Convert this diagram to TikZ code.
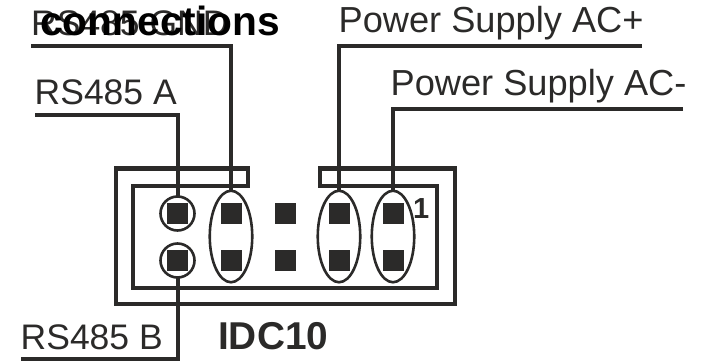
\documentclass[tikz,border=0pt]{standalone}
\usepackage{fontspec}
\setmainfont{Liberation Sans}
\usetikzlibrary{shapes.geometric}
\definecolor{ink}{HTML}{2B2A29}
\tikzset{
  lbl/.style={anchor=base west,inner sep=0pt,text=ink,font=\fontsize{35.5}{36}\selectfont},
  lblp/.style={anchor=base west,inner sep=0pt,text=ink,font=\fontsize{36.2}{36}\selectfont},
  boldlbl/.style={anchor=base west,inner sep=0pt,text=ink,font=\fontsize{38.8}{39}\selectfont\bfseries},
  ttl/.style={anchor=base west,inner sep=0pt,text=black,font=\fontsize{40.7}{41}\selectfont\bfseries},
  pin/.style={fill=ink,draw=none,minimum size=21pt,inner sep=0pt,outer sep=0pt},
  ring/.style={circle,draw=ink,line width=2.6pt,minimum size=34pt,inner sep=0pt,outer sep=0pt},
  oval/.style={ellipse,draw=ink,line width=2.6pt,minimum width=42.5pt,minimum height=91.5pt,inner sep=0pt,outer sep=0pt},
  wire/.style={draw=ink,line width=4pt},
  shell/.style={draw=ink,line width=4.2pt,miter limit=10}
}
\begin{document}
\begin{tikzpicture}[x=1pt,y=-1pt]
\useasboundingbox (0,0) rectangle (701,362);
% shell
\coordinate (o1) at (248,186); \coordinate (o2) at (248,168.5); \coordinate (o3) at (116,168.5);
\coordinate (o4) at (116,304); \coordinate (o5) at (455,304); \coordinate (o6) at (455,168.5);
\coordinate (o7) at (320,168.5); \coordinate (o8) at (320,186);
\coordinate (i1) at (133,186); \coordinate (i2) at (133,288); \coordinate (i3) at (437,288); \coordinate (i4) at (437,186);
\draw[shell] (i1) -- (o1) -- (o2) -- (o3) -- (o4) -- (o5) -- (o6) -- (o7) -- (o8) -- (i4) -- (i3) -- (i2) -- cycle;
% pins
\foreach \n/\x in {a/177.5,b/231,c/285,d/339,e/393}{
  \node[pin] (p\n t) at (\x,213.5) {};
  \node[pin] (p\n b) at (\x,260.5) {};
}
\node[ring] (ra) at (177.5,213.5) {};
\node[ring] (rb) at (177.5,260.5) {};
\node[oval] (ob) at (231,236.5) {};
\node[oval] (od) at (339,236.5) {};
\node[oval] (oe) at (393,236.5) {};
% labels
\node[lbl] (lgnd) at (31,35) {RS485 GND};
\node[lbl] (la) at (34.5,104) {RS485 A};
\node[lbl] (lb) at (20.5,349) {RS485 B};
\node[lblp] (lp) at (338.5,32) {Power Supply AC+};
\node[lblp] (lm) at (390.5,95) {Power Supply AC-};
\node[ttl] (title) at (40,35) {connections};
\node[boldlbl] (idc) at (218,349) {IDC10};
\node[anchor=base west,inner sep=0pt,text=ink,font=\fontsize{29}{29}\selectfont\bfseries] (one) at (413,218) {1};
% wires
\coordinate (wg) at (31,46); \coordinate (wa) at (35,115); \coordinate (wb) at (21,358.5);
\coordinate (wp) at (642,46); \coordinate (wm) at (683,108.5);
\draw[wire] (wg) -| (ob.north);
\draw[wire] (wa) -| (ra.north);
\draw[wire] (wb) -| (rb.south);
\draw[wire] (wp) -| (od.north);
\draw[wire] (wm) -| (oe.north);
\end{tikzpicture}
\end{document}
